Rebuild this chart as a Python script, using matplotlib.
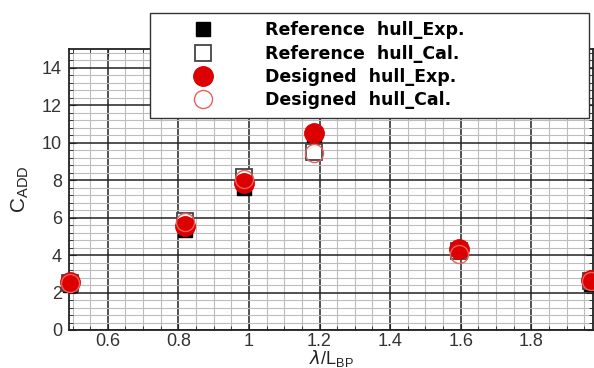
import matplotlib.pyplot as plt
from matplotlib.ticker import MultipleLocator

# wave length ratio lambda/L_BP
x_vals = [0.492, 0.818, 0.985, 1.183, 1.595, 1.968]

ref_exp = [2.4, 5.35, 7.6, 10.4, 4.2, 2.45]
ref_cal = [2.5, 5.8, 8.15, 9.5, 4.2, 2.6]
des_exp = [2.55, 5.55, 7.85, 10.5, 4.3, 2.65]
des_cal = [2.5, 5.75, 8.05, 9.45, 4.05, 2.6]

labels = ["Reference  hull_Exp.", "Reference  hull_Cal.",
          "Designed  hull_Exp.", "Designed  hull_Cal."]

RED = "#dd0000"

plt.rcParams.update({
    "font.family": ["Liberation Sans", "DejaVu Sans"],
    "font.size": 13,
})

fig = plt.figure(figsize=(5.94, 3.68), dpi=100)
ax = fig.add_axes([69 / 594, 1 - 330 / 368, 524 / 594, 281 / 368])

ax.plot(x_vals, ref_exp, "s", color="black", markersize=10.5, clip_on=False,
        label=labels[0], zorder=3)
ax.plot(x_vals, ref_cal, "s", mfc="white", mec="#444444", mew=1.3, markersize=11,
        clip_on=False, label=labels[1], zorder=3)
ax.plot(x_vals, des_exp, "o", color=RED, markersize=14, clip_on=False,
        label=labels[2], zorder=4)
ax.plot(x_vals, des_cal, "o", mfc="none", mec="#e86060", mew=1.0, markersize=13,
        clip_on=False, label=labels[3], zorder=5)

ax.set_xlim(0.49, 1.975)
ax.set_ylim(0, 15)
ax.xaxis.set_major_locator(MultipleLocator(0.2))
ax.xaxis.set_minor_locator(MultipleLocator(0.05))
ax.yaxis.set_major_locator(MultipleLocator(2))
ax.yaxis.set_minor_locator(MultipleLocator(0.4))
ax.set_xticks([0.6, 0.8, 1.0, 1.2, 1.4, 1.6, 1.8])
ax.set_xticklabels(["0.6", "0.8", "1", "1.2", "1.4", "1.6", "1.8"])

ax.grid(which="major", color="#222222", linewidth=1.1)
ax.grid(which="minor", color="#bdbdbd", linewidth=0.8)
ax.set_axisbelow(True)
ax.tick_params(which="both", direction="in", top=True, right=True,
               labelcolor="#333333", color="#222222")
ax.tick_params(which="major", length=5)
ax.tick_params(axis="x", which="major", pad=2)
ax.tick_params(axis="y", which="major", pad=5)
ax.tick_params(which="minor", length=3)
for s in ax.spines.values():
    s.set_linewidth(1.3)
    s.set_color("#222222")

ax.set_ylabel(r"C$_{\mathregular{ADD}}$", fontsize=15, color="#222222", labelpad=8)
ax.set_xlabel(r"$\lambda$/L$_{\mathregular{BP}}$", fontsize=13, color="#222222", labelpad=-1)

leg = fig.legend(loc="upper left", bbox_to_anchor=(150 / 594, 1 - 116.7 / 368, 439 / 594, 104 / 368),
                 mode="expand", borderaxespad=0, frameon=True, fancybox=False,
                 handlelength=5.1, handletextpad=1.0, labelspacing=0.3, borderpad=0.5,
                 prop={"family": "DejaVu Sans", "weight": "bold", "size": 12.5})
leg.get_frame().set_edgecolor("#333333")
leg.get_frame().set_linewidth(1.0)
leg.get_frame().set_alpha(1)

fig.savefig("out.png", dpi=100)
